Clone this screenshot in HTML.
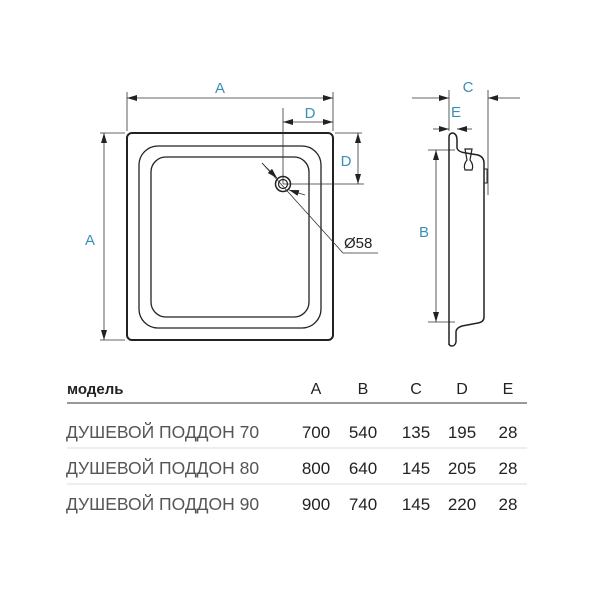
<!DOCTYPE html>
<html><head><meta charset="utf-8"><style>
body{margin:0;width:600px;height:600px;background:#fff;overflow:hidden}
svg{position:absolute;left:0;top:0}
</style></head><body>
<svg width="600" height="600" viewBox="0 0 600 600" font-family="Liberation Sans, DejaVu Sans, sans-serif">
<defs>
<marker id="ar" viewBox="0 0 10 6" refX="10" refY="3" markerWidth="10" markerHeight="6" orient="auto-start-reverse" markerUnits="userSpaceOnUse"><path d="M0,0L10,3L0,6z" fill="#222"/></marker>
</defs>
<g fill="none" stroke="#222">
<rect x="127" y="133" width="206" height="207" rx="5" stroke-width="2"/>
<rect x="139" y="146" width="182" height="182" rx="19" stroke-width="1.3"/>
<rect x="151" y="157" width="158" height="160" rx="15" stroke-width="1.3"/>
<circle cx="283" cy="184" r="7.5" stroke-width="1.5"/>
<circle cx="283" cy="184" r="4.5" stroke-width="1.2"/>
</g>
<g stroke="#333" stroke-width="0.8" fill="none">
<line x1="127" y1="92" x2="127" y2="131"/><line x1="333" y1="92" x2="333" y2="131"/>
<line x1="127" y1="98" x2="333" y2="98" marker-start="url(#ar)" marker-end="url(#ar)"/>
<line x1="283" y1="108" x2="283" y2="184"/>
<line x1="283" y1="122" x2="333" y2="122" marker-start="url(#ar)" marker-end="url(#ar)"/>
<line x1="335" y1="133" x2="362" y2="133"/><line x1="283" y1="184" x2="364" y2="184"/>
<line x1="358" y1="133" x2="358" y2="184" marker-start="url(#ar)" marker-end="url(#ar)"/>
<line x1="100" y1="133" x2="125" y2="133"/><line x1="100" y1="340" x2="125" y2="340"/>
<line x1="104" y1="133" x2="104" y2="340" marker-start="url(#ar)" marker-end="url(#ar)"/>
<polyline points="262,163 343,253 378,253"/>
<line x1="262" y1="163" x2="277" y2="178" marker-end="url(#ar)"/>
<line x1="305" y1="195" x2="289" y2="190" marker-end="url(#ar)"/>
<line x1="449" y1="90" x2="449" y2="131"/><line x1="488" y1="90" x2="488" y2="195"/>
<line x1="412" y1="98" x2="449" y2="98" marker-end="url(#ar)"/>
<line x1="520" y1="98" x2="488" y2="98" marker-end="url(#ar)"/>
<line x1="433" y1="129" x2="449" y2="129" marker-end="url(#ar)"/>
<line x1="472" y1="129" x2="457" y2="129" marker-end="url(#ar)"/>
<line x1="428" y1="150" x2="455" y2="150"/><line x1="428" y1="322" x2="455" y2="322"/>
<line x1="436" y1="150" x2="436" y2="322" marker-start="url(#ar)" marker-end="url(#ar)"/>
</g>
<g fill="none" stroke="#222" stroke-width="1.5">
<path d="M449,345 L449,137 Q449,133 453,133 Q457,134 457,140 L457,148 Q458,152 466,153 L478,155 Q484,157 484,163 L484,317 Q484,322 478,323 L462,326 Q456,328 456,332 L456,342 Q455,346 452,346 Q449,346 449,343"/>
<path d="M465,149 L467,160 Q463,165 465,170 L472,170 Q474,165 470,160 L472,149 Z" stroke-width="1.2"/>
<rect x="484" y="169" width="3" height="14" stroke-width="1"/>
</g>
<g fill="#3a8fb5" font-size="15">
<text x="220" y="93" text-anchor="middle">A</text>
<text x="310" y="118" text-anchor="middle">D</text>
<text x="346" y="166" text-anchor="middle">D</text>
<text x="90" y="245" text-anchor="middle">A</text>
<text x="468" y="92" text-anchor="middle">C</text>
<text x="456" y="117" text-anchor="middle">E</text>
<text x="424" y="237" text-anchor="middle">B</text>
</g>
<text x="344" y="248" font-size="15" fill="#222">Ø58</text>
<g font-size="16">
<text x="67" y="394" font-weight="bold" fill="#222" font-size="15">модель</text>
<g text-anchor="middle" fill="#222"><text x="316" y="394">A</text><text x="363" y="394">B</text><text x="416" y="394">C</text><text x="462" y="394">D</text><text x="508" y="394">E</text></g>
<line x1="67" y1="403" x2="527" y2="403" stroke="#999" stroke-width="2"/>
<line x1="67" y1="448" x2="527" y2="448" stroke="#ddd" stroke-width="1"/>
<line x1="67" y1="484" x2="527" y2="484" stroke="#ddd" stroke-width="1"/>
<g fill="#555" font-size="17.5"><text x="66" y="438">ДУШЕВОЙ ПОДДОН 70</text><text x="66" y="474">ДУШЕВОЙ ПОДДОН 80</text><text x="66" y="510">ДУШЕВОЙ ПОДДОН 90</text></g>
<g text-anchor="middle" fill="#222" font-size="17">
<text x="316" y="438">700</text><text x="363" y="438">540</text><text x="416" y="438">135</text><text x="462" y="438">195</text><text x="508" y="438">28</text>
<text x="316" y="474">800</text><text x="363" y="474">640</text><text x="416" y="474">145</text><text x="462" y="474">205</text><text x="508" y="474">28</text>
<text x="316" y="510">900</text><text x="363" y="510">740</text><text x="416" y="510">145</text><text x="462" y="510">220</text><text x="508" y="510">28</text>
</g>
</g>
</svg>
</body></html>
